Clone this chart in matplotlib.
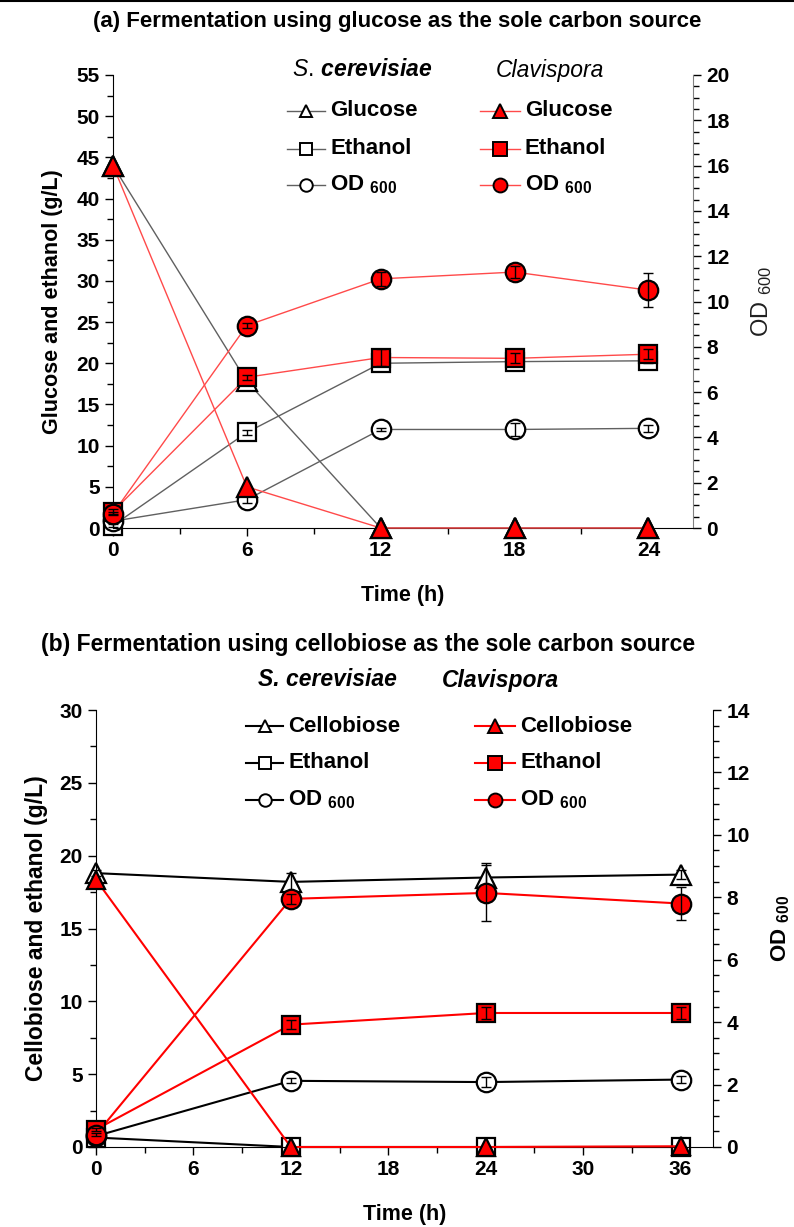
import numpy as np
import matplotlib
matplotlib.use("Agg")
import matplotlib.pyplot as plt
from matplotlib.lines import Line2D
from matplotlib.transforms import blended_transform_factory

plt.rcParams['font.family'] = ['Liberation Sans', 'DejaVu Sans']
plt.rcParams['mathtext.fontset'] = 'custom'
plt.rcParams['mathtext.rm'] = 'Liberation Sans'
plt.rcParams['mathtext.it'] = 'Liberation Sans:italic'
plt.rcParams['mathtext.bf'] = 'Liberation Sans:bold'
plt.rcParams['mathtext.bfit'] = 'Liberation Sans:bold:italic'

# ---------------- data: panel (a) glucose ----------------
time_a = [0, 6, 12, 18, 24]
sc_glucose_a = [44.0, 17.8, 0.0, 0.0, 0.0]
cl_glucose_a = [44.0, 5.0, 0.0, 0.0, 0.0]
sc_ethanol_a = [0.3, 11.6, 20.0, 20.2, 20.3]
sc_ethanol_a_err = [0.2, 0.3, 0.3, 0.3, 0.3]
cl_ethanol_a = [2.0, 18.3, 20.7, 20.6, 21.1]
cl_ethanol_a_err = [0.3, 0.3, 1.0, 0.6, 0.6]
sc_od_a = [0.3, 1.25, 4.35, 4.35, 4.4]
sc_od_a_err = [0.05, 0.15, 0.05, 0.27, 0.15]
cl_od_a = [0.64, 8.94, 11.0, 11.3, 10.5]
cl_od_a_err = [0.05, 0.1, 0.3, 0.25, 0.75]

# ---------------- data: panel (b) cellobiose ----------------
time_b = [0, 12, 24, 36]
sc_cello_b = [18.8, 18.2, 18.5, 18.7]
sc_cello_b_err = [0.2, 0.6, 1.0, 0.3]
cl_cello_b = [18.35, 0.0, 0.0, 0.05]
sc_ethanol_b = [0.65, 0.0, 0.0, 0.0]
cl_ethanol_b = [1.2, 8.4, 9.2, 9.2]
cl_ethanol_b_err = [0.1, 0.3, 0.4, 0.4]
sc_od_b = [0.35, 2.12, 2.08, 2.16]
sc_od_b_err = [0.02, 0.08, 0.15, 0.1]
cl_od_b = [0.4, 7.95, 8.14, 7.8]
cl_od_b_err = [0.05, 0.15, 0.9, 0.53]

W, H = 794, 1227
fig = plt.figure(figsize=(W / 100, H / 100), dpi=100)


def fx(px):
    return px / W


def fy(py):
    return 1 - py / H


def setup_axes(ax, ax2, spine_color_right):
    for a in (ax, ax2):
        a.spines['top'].set_visible(False)
    ax.spines['right'].set_visible(False)
    ax2.spines['left'].set_visible(False)
    ax2.spines['bottom'].set_visible(False)
    ax2.spines['right'].set_color(spine_color_right)
    for a in (ax, ax2):
        a.tick_params(which='major', direction='out', length=6, width=1,
                      labelsize=15)
        a.tick_params(which='minor', direction='out', length=4, width=1)
        for lab in a.get_xticklabels() + a.get_yticklabels():
            lab.set_fontweight('bold')


def draw_series(ax, tr, x, y, marker, ms, filled, lc, lw, z, err=None):
    fc = 'red' if filled else 'white'
    ax.plot(x, y, color=lc, lw=lw, zorder=z, transform=tr, clip_on=False)
    ax.plot(x, y, ls='none', marker=marker, ms=ms, mfc=fc, mec='black',
            mew=1.6, zorder=z + 0.5, transform=tr, clip_on=False)
    if err is not None:
        ax.errorbar(x, y, yerr=err, fmt='none', ecolor='black', elinewidth=1,
                    capsize=3.5, capthick=1, zorder=z + 0.6, transform=tr,
                    clip_on=False)


def legend_row(x0, x1, y, marker, ms, filled, lc, lw, label, size):
    fig.add_artist(Line2D([fx(x0), fx(x1)], [fy(y), fy(y)], color=lc, lw=lw,
                          transform=fig.transFigure))
    fig.add_artist(Line2D([fx((x0 + x1) / 2)], [fy(y)], marker=marker, ms=ms,
                          mfc='red' if filled else 'white', mec='black',
                          mew=1.4, transform=fig.transFigure))
    fig.text(fx(x1 + 5), fy(y), label, fontsize=size, fontweight='bold',
             va='center', ha='left')


# ======================= panel (a) =======================
ax = fig.add_axes([fx(113), fy(528), fx(693) - fx(113), fy(75) - fy(528)])
ax2 = ax.twinx()
ax.set_xlim(0, 26)
ax.set_ylim(0, 55)
ax2.set_ylim(0, 20)
ax.set_xticks([0, 6, 12, 18, 24])
ax.set_xticks([3, 9, 15, 21], minor=True)
ax.set_yticks(np.arange(0, 56, 5))
ax.set_yticks(np.arange(2.5, 55, 5), minor=True)
ax2.set_yticks(np.arange(0, 21, 2))
ax2.set_yticks(np.arange(0, 20.1, 0.5), minor=True)
setup_axes(ax, ax2, '#808080')
ax.set_zorder(ax2.get_zorder() + 1)
ax.patch.set_visible(False)

tr_l = ax.transData
tr_r = blended_transform_factory(ax.transData, ax2.transData)
lc_k, lc_r = '#606060', '#ff4a4a'
draw_series(ax, tr_l, time_a, sc_glucose_a, '^', 14, False, lc_k, 1.0, 2)
draw_series(ax, tr_l, time_a, sc_ethanol_a, 's', 13, False, lc_k, 1.0, 2, sc_ethanol_a_err)
draw_series(ax, tr_r, time_a, sc_od_a, 'o', 14, False, lc_k, 1.0, 2, sc_od_a_err)
draw_series(ax, tr_l, time_a, cl_ethanol_a, 's', 13, True, lc_r, 1.0, 4, cl_ethanol_a_err)
draw_series(ax, tr_r, time_a, cl_od_a, 'o', 14, True, lc_r, 1.0, 4, cl_od_a_err)
draw_series(ax, tr_l, time_a, cl_glucose_a, '^', 14, True, lc_r, 1.0, 4)

ax.set_xlabel('Time (h)', fontsize=15.5, fontweight='bold', labelpad=18)
ax.set_ylabel('Glucose and ethanol (g/L)', fontsize=15.5, fontweight='bold',
              labelpad=10)
ax2.set_ylabel(r'OD $_{\mathregular{600}}$', fontsize=17, labelpad=14,
               color='#202020')

fig.text(fx(397), fy(22), '(a) Fermentation using glucose as the sole carbon source',
         ha='center', va='center', fontsize=16, fontweight='bold')
fig.text(fx(362), fy(70), r'$\mathit{S.}\,\mathbfit{cerevisiae}$',
         ha='center', va='center', fontsize=16.5)
fig.text(fx(550), fy(70), 'Clavispora', style='italic',
         ha='center', va='center', fontsize=16.5)
legend_row(287, 325, 111, '^', 9, False, lc_k, 1.0, 'Glucose', 16)
legend_row(287, 325, 149, 's', 9, False, lc_k, 1.0, 'Ethanol', 16)
legend_row(287, 325, 185, 'o', 9, False, lc_k, 1.0,
           r'$\mathbf{OD}$ $_{\mathregular{600}}$', 16)
legend_row(480, 520, 111, '^', 10, True, lc_r, 1.0, 'Glucose', 16)
legend_row(480, 520, 149, 's', 10, True, lc_r, 1.0, 'Ethanol', 16)
legend_row(480, 520, 185, 'o', 10, True, lc_r, 1.0,
           r'$\mathbf{OD}$ $_{\mathregular{600}}$', 16)

# ======================= panel (b) =======================
bx = fig.add_axes([fx(96), fy(1147), fx(713) - fx(96), fy(710) - fy(1147)])
bx2 = bx.twinx()
bx.set_xlim(0, 38)
bx.set_ylim(0, 30)
bx2.set_ylim(0, 14)
bx.set_xticks([0, 6, 12, 18, 24, 30, 36])
bx.set_xticks([3, 9, 15, 21, 27, 33], minor=True)
bx.set_yticks(np.arange(0, 31, 5))
bx.set_yticks(np.arange(2.5, 30, 5), minor=True)
bx2.set_yticks(np.arange(0, 15, 2))
bx2.set_yticks(np.arange(0, 14.1, 0.5), minor=True)
setup_axes(bx, bx2, 'black')
bx.set_zorder(bx2.get_zorder() + 1)
bx.patch.set_visible(False)

tr_lb = bx.transData
tr_rb = blended_transform_factory(bx.transData, bx2.transData)
draw_series(bx, tr_lb, time_b, sc_cello_b, '^', 14, False, 'black', 1.5, 2, sc_cello_b_err)
draw_series(bx, tr_lb, time_b, sc_ethanol_b, 's', 13, False, 'black', 1.5, 2)
draw_series(bx, tr_rb, time_b, sc_od_b, 'o', 14, False, 'black', 1.5, 2, sc_od_b_err)
draw_series(bx, tr_lb, time_b, cl_ethanol_b, 's', 13, True, 'red', 1.5, 4, cl_ethanol_b_err)
draw_series(bx, tr_rb, time_b, cl_od_b, 'o', 14, True, 'red', 1.5, 4, cl_od_b_err)
draw_series(bx, tr_lb, time_b, cl_cello_b, '^', 13, True, 'red', 1.5, 4)

bx.set_xlabel('Time (h)', fontsize=15.5, fontweight='bold', labelpad=18)
bx.set_ylabel('Cellobiose and ethanol (g/L)', fontsize=16.5, fontweight='bold',
              labelpad=8)
bx2.set_ylabel(r'$\mathbf{OD}$ $_{\mathbf{600}}$', fontsize=16, labelpad=14)

fig.text(fx(368), fy(645),
         '(b) Fermentation using cellobiose as the sole carbon source',
         ha='center', va='center', fontsize=16.5, fontweight='bold')
fig.text(fx(327), fy(680), 'S. cerevisiae', style='italic', fontweight='bold',
         ha='center', va='center', fontsize=16.5)
fig.text(fx(500), fy(680), 'Clavispora', style='italic', fontweight='bold',
         ha='center', va='center', fontsize=16.5)
legend_row(246, 283, 726, '^', 9, False, 'black', 1.5, 'Cellobiose', 16)
legend_row(246, 283, 763, 's', 9, False, 'black', 1.5, 'Ethanol', 16)
legend_row(246, 283, 800, 'o', 9, False, 'black', 1.5,
           r'$\mathbf{OD}$ $_{\mathregular{600}}$', 16)
legend_row(475, 515, 726, '^', 10, True, 'red', 1.5, 'Cellobiose', 16)
legend_row(475, 515, 763, 's', 10, True, 'red', 1.5, 'Ethanol', 16)
legend_row(475, 515, 800, 'o', 10, True, 'red', 1.5,
           r'$\mathbf{OD}$ $_{\mathregular{600}}$', 16)

# top border line as in the reference
fig.add_artist(Line2D([0, 1], [fy(1), fy(1)], color='black', lw=1.5,
                      transform=fig.transFigure))

fig.savefig('out.png', dpi=100)
